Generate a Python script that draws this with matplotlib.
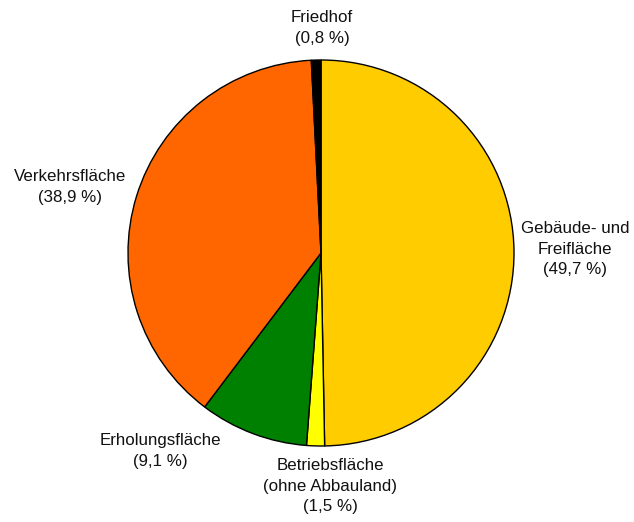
import matplotlib
matplotlib.use("Agg")
import matplotlib.pyplot as plt

categories = ["Gebäude- und\nFreifläche", "Betriebsfläche\n(ohne Abbauland)", "Erholungsfläche",
              "Verkehrsfläche", "Friedhof"]
values = [49.7, 1.5, 9.1, 38.9, 0.8]
value_labels = ["49,7 %", "1,5 %", "9,1 %", "38,9 %", "0,8 %"]
colors = ["#FFCC00", "#FFFF00", "#008000", "#FF6600", "#000000"]

# label centres in pixels (x, y from top)
label_pos = [(575, 249), (330, 486), (160, 451), (70, 187), (322, 28)]

W, H = 634, 522
fig = plt.figure(figsize=(W / 100, H / 100), dpi=100)
fig.patch.set_facecolor("white")
cx, cy, r = 321, 253, 193
ax = fig.add_axes([(cx - r) / W, (H - cy - r) / H, 2 * r / W, 2 * r / H])
ax.pie(values, colors=colors, startangle=90, counterclock=False,
       wedgeprops=dict(edgecolor="black", linewidth=1.0), radius=1.0)
ax.set_xlim(-1.0, 1.0)
ax.set_ylim(-1.0, 1.0)
ax.set_aspect("equal")
ax.axis("off")

for cat, vl, (px, py) in zip(categories, value_labels, label_pos):
    fig.text(px / W, 1 - py / H, f"{cat}\n({vl})", ha="center", va="center",
             fontsize=12.2, family=["Liberation Sans", "DejaVu Sans"],
             linespacing=1.42, color="#111111")

fig.savefig("out.png", dpi=100, facecolor="white")
